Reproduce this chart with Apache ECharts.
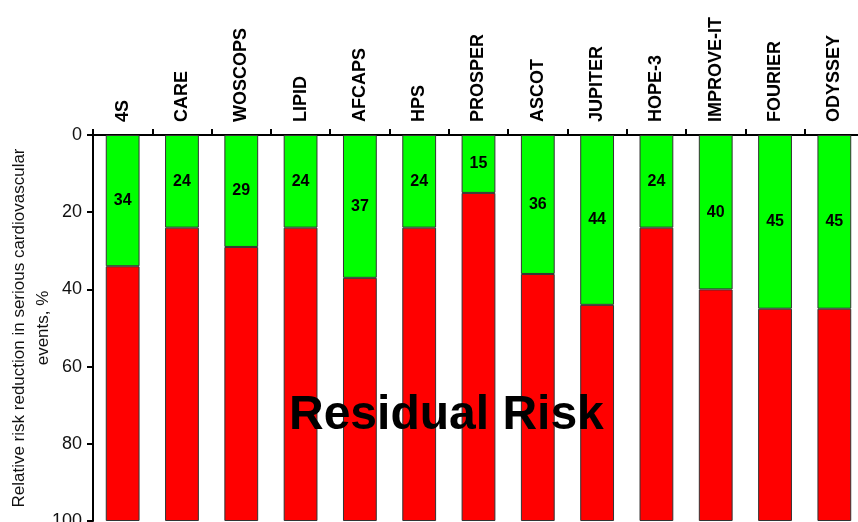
<!DOCTYPE html>
<html>
<head>
<meta charset="utf-8">
<script src="https://cdn.jsdelivr.net/npm/echarts@6/dist/echarts.min.js"></script>
<style>
  html, body { margin: 0; padding: 0; background: #fff; }
  #chart { width: 858px; height: 522px; }
</style>
</head>
<body>
<div id="chart"></div>
<script>
// Statin / lipid-lowering trials and the relative risk reduction each achieved
const trials = ['4S', 'CARE', 'WOSCOPS', 'LIPID', 'AFCAPS', 'HPS', 'PROSPER', 'ASCOT',
  'JUPITER', 'HOPE-3', 'IMPROVE-IT', 'FOURIER', 'ODYSSEY'];
const riskReduction = [34, 24, 29, 24, 37, 24, 15, 36, 44, 24, 40, 45, 45];
const yTicks = [0, 20, 40, 60, 80, 100];

// What remains of the 100% after the reduction
const residual = riskReduction.map(v => 100 - v);

const chart = echarts.init(document.getElementById('chart'));
const font = 'Liberation Sans, Arial, sans-serif';

chart.setOption({
  animation: false,
  grid: {
    left: 93, top: 135, width: 771, height: 386,
    containLabel: false,
    outerBoundsMode: 'none'
  },
  xAxis: {
    type: 'category',
    position: 'top',
    data: trials,
    boundaryGap: true,
    axisLine: { show: true, lineStyle: { color: '#000', width: 2 } },
    axisTick: { show: true, alignWithLabel: false, length: 6, lineStyle: { color: '#000', width: 2 } },
    axisLabel: {
      rotate: 90,
      margin: 13,
      interval: 0,
      fontFamily: font,
      fontWeight: 'bold',
      fontSize: 18,
      color: '#000'
    }
  },
  yAxis: {
    type: 'value',
    inverse: true,
    min: yTicks[0],
    max: yTicks[yTicks.length - 1],
    interval: 20,
    splitLine: { show: false },
    axisLine: { show: true, lineStyle: { color: '#000', width: 2 } },
    axisTick: { show: true, length: 6, lineStyle: { color: '#000', width: 2 } },
    axisLabel: { margin: 11, fontFamily: font, fontSize: 18, color: '#111' },
    name: 'Relative risk reduction in serious cardiovascular\nevents, %',
    nameLocation: 'middle',
    nameRotate: 90,
    nameGap: 38,
    nameMoveOverlap: false,
    nameTextStyle: { fontFamily: font, fontSize: 17, color: '#111', lineHeight: 24, align: 'center' }
  },
  series: [
    {
      name: 'Reduction',
      type: 'bar',
      stack: 'risk',
      barWidth: '57%',
      data: riskReduction,
      itemStyle: { color: '#00ff00', borderColor: '#333', borderWidth: 1 },
      label: {
        show: true,
        position: 'inside',
        fontFamily: font,
        fontWeight: 'bold',
        fontSize: 16,
        color: '#000'
      }
    },
    {
      name: 'Residual',
      type: 'bar',
      stack: 'risk',
      data: residual,
      itemStyle: { color: '#ff0000', borderColor: '#333', borderWidth: 1 }
    }
  ],
  graphic: [
    {
      type: 'text',
      left: 289,
      top: 392,
      z: 100,
      style: {
        text: 'Residual Risk',
        fontFamily: font,
        fontWeight: 'bold',
        fontSize: 48,
        fill: '#000'
      }
    }
  ]
});
</script>
</body>
</html>
